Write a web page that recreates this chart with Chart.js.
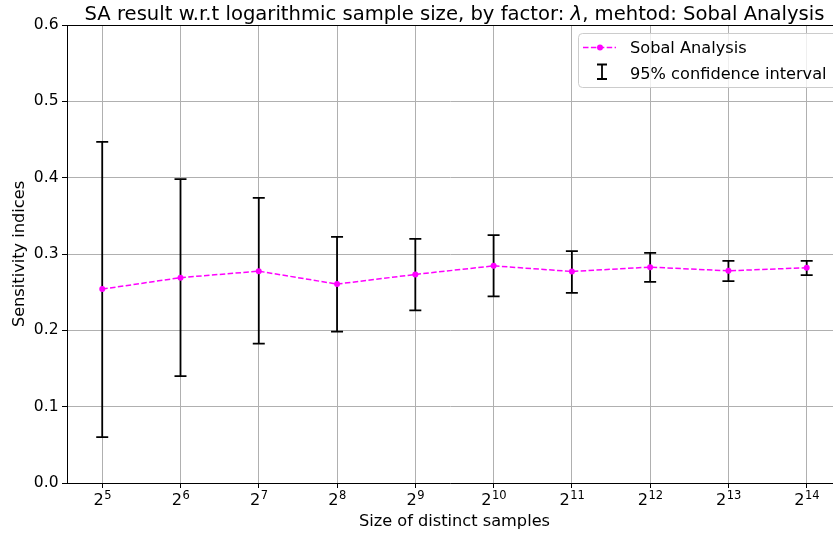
<!DOCTYPE html>
<html><head><meta charset="utf-8">
<script src="https://cdn.jsdelivr.net/npm/chart.js@4/dist/chart.umd.min.js"></script>
<style>html,body{margin:0;padding:0;background:#fff;overflow:hidden}#wrap{width:833px;height:535px;position:relative}</style>
</head><body><div id="wrap"><canvas id="c"></canvas></div>
<script>
const exponents = [5, 6, 7, 8, 9, 10, 11, 12, 13, 14];
const means = [0.254, 0.269, 0.2775, 0.2606, 0.2732, 0.2845, 0.2771, 0.2828, 0.278, 0.282];
const lowerCI = [0.060, 0.140, 0.1826, 0.1983, 0.2261, 0.2444, 0.2492, 0.2636, 0.2645, 0.2723];
const upperCI = [0.447, 0.398, 0.3735, 0.3225, 0.3198, 0.3246, 0.3037, 0.3015, 0.2911, 0.2911];
const yTickValues = [0, 0.1, 0.2, 0.3, 0.4, 0.5, 0.6];
const titleParts = ['SA result w.r.t logarithmic sample size, by factor: ', 'λ', ', mehtod: Sobal Analysis'];
const xLabel = 'Size of distinct samples';
const yLabel = 'Sensitivity indices';
const seriesName = 'Sobal Analysis';
const ciName = '95% confidence interval';

const FONT = "'DejaVu Sans', sans-serif";
const MAG = '#ff00ff';

const overlay = {
  id: 'overlay',
  beforeDatasetsDraw(chart) {
    const ctx = chart.ctx, xs = chart.scales.x, ys = chart.scales.y;
    ctx.save();
    ctx.strokeStyle = '#000';
    ctx.lineWidth = 1.8;
    for (let i = 0; i < exponents.length; i++) {
      const x = xs.getPixelForValue(exponents[i]);
      const yt = ys.getPixelForValue(upperCI[i]);
      const yb = ys.getPixelForValue(lowerCI[i]);
      ctx.beginPath();
      ctx.moveTo(x, yt); ctx.lineTo(x, yb);
      ctx.moveTo(x - 6, yt); ctx.lineTo(x + 6, yt);
      ctx.moveTo(x - 6, yb); ctx.lineTo(x + 6, yb);
      ctx.stroke();
    }
    ctx.restore();
  },
  afterDraw(chart) {
    const ctx = chart.ctx, xs = chart.scales.x, ys = chart.scales.y, ca = chart.chartArea;
    ctx.save();
    ctx.strokeStyle = '#000'; ctx.lineWidth = 1;
    ctx.beginPath(); ctx.moveTo(ca.left, Math.round(ca.top) + 0.5); ctx.lineTo(ca.right, Math.round(ca.top) + 0.5); ctx.stroke();
    ctx.fillStyle = '#000';
    const axLeft = xs.getPixelForValue(4.55), axRight = xs.getPixelForValue(14.45);
    const cx = (axLeft + axRight) / 2;
    ctx.textBaseline = 'alphabetic';
    ctx.textAlign = 'left';
    const fN = '19.6px ' + FONT, fI = 'italic 19.6px ' + FONT;
    ctx.font = fN; const w0 = ctx.measureText(titleParts[0]).width, w2 = ctx.measureText(titleParts[2]).width;
    ctx.font = fI; const w1 = ctx.measureText(titleParts[1]).width;
    let tx = cx - (w0 + w1 + w2) / 2;
    ctx.font = fN; ctx.fillText(titleParts[0], tx, 19.5); tx += w0;
    ctx.font = fI; ctx.fillText(titleParts[1], tx, 19.5); tx += w1;
    ctx.font = fN; ctx.fillText(titleParts[2], tx, 19.5);
    for (const e of exponents) {
      const x = xs.getPixelForValue(e);
      ctx.font = '16.2px ' + FONT; const wb = ctx.measureText('2').width;
      ctx.font = '11.5px ' + FONT; const we = ctx.measureText(String(e)).width;
      const lx = x - (wb + we) / 2;
      ctx.font = '16.2px ' + FONT; ctx.fillText('2', lx, 504.5);
      ctx.font = '11.5px ' + FONT; ctx.fillText(String(e), lx + wb + 0.5, 498.5);
    }
    ctx.font = '16.2px ' + FONT; ctx.textAlign = 'center';
    ctx.fillText(xLabel, cx, 526);
    ctx.save();
    ctx.translate(20, (ca.top + ca.bottom) / 2);
    ctx.rotate(-Math.PI / 2);
    ctx.textBaseline = 'middle';
    ctx.fillText(yLabel, 0, 0);
    ctx.restore();
    const bx = 578.5, by = 33.5, bw = 280, bh = 54, r = 4;
    ctx.beginPath();
    ctx.moveTo(bx + r, by); ctx.lineTo(bx + bw - r, by); ctx.arcTo(bx + bw, by, bx + bw, by + r, r);
    ctx.lineTo(bx + bw, by + bh - r); ctx.arcTo(bx + bw, by + bh, bx + bw - r, by + bh, r);
    ctx.lineTo(bx + r, by + bh); ctx.arcTo(bx, by + bh, bx, by + bh - r, r);
    ctx.lineTo(bx, by + r); ctx.arcTo(bx, by, bx + r, by, r); ctx.closePath();
    ctx.fillStyle = 'rgba(255,255,255,0.8)'; ctx.fill();
    ctx.strokeStyle = '#cccccc'; ctx.lineWidth = 1; ctx.stroke();
    ctx.strokeStyle = MAG; ctx.lineWidth = 1.5; ctx.setLineDash([5.5, 2.4]);
    ctx.beginPath(); ctx.moveTo(583, 47.5); ctx.lineTo(616, 47.5); ctx.stroke();
    ctx.setLineDash([]);
    ctx.fillStyle = MAG; ctx.beginPath(); ctx.arc(600, 47.5, 3, 0, Math.PI * 2); ctx.fill();
    ctx.strokeStyle = '#000'; ctx.lineWidth = 1.8;
    ctx.beginPath();
    ctx.moveTo(602, 64.5); ctx.lineTo(602, 79);
    ctx.moveTo(597, 64.5); ctx.lineTo(607, 64.5);
    ctx.moveTo(597, 79); ctx.lineTo(607, 79);
    ctx.stroke();
    ctx.fillStyle = '#000'; ctx.textAlign = 'left'; ctx.textBaseline = 'alphabetic';
    ctx.font = '16.2px ' + FONT;
    ctx.fillText(seriesName, 630, 52.5);
    ctx.fillText(ciName, 630, 78.5);
    ctx.restore();
  }
};

new Chart(document.getElementById('c'), {
  type: 'scatter',
  data: {
    datasets: [{
      label: seriesName,
      data: exponents.map((e, i) => ({ x: e, y: means[i] })),
      showLine: true,
      borderColor: MAG,
      backgroundColor: MAG,
      borderWidth: 1.5,
      borderDash: [5.5, 2.4],
      pointRadius: 3,
      pointBorderWidth: 0,
      pointBackgroundColor: MAG,
      tension: 0
    }]
  },
  options: {
    responsive: true,
    maintainAspectRatio: false,
    animation: false,
    devicePixelRatio: 1,
    layout: { autoPadding: false, padding: { top: 25, right: 0, bottom: 0, left: 0 } },
    plugins: { legend: { display: false }, title: { display: false }, tooltip: { enabled: false } },
    scales: {
      x: {
        type: 'linear',
        min: 4.55,
        max: 14.336,
        afterBuildTicks: s => { s.ticks = exponents.map(v => ({ value: v })); },
        afterFit: s => { s.height = 52; },
        ticks: { callback: () => '', autoSkip: false, padding: 0 },
        grid: { color: '#b0b0b0', lineWidth: 1, tickColor: '#000', tickLength: 5, drawTicks: true },
        border: { display: true, color: '#000', width: 1 }
      },
      y: {
        type: 'linear',
        min: 0,
        max: 0.6,
        afterBuildTicks: s => { s.ticks = yTickValues.map(v => ({ value: v })); },
        afterFit: s => { s.width = 67; },
        ticks: {
          callback: v => Number(v).toFixed(1),
          color: '#000',
          padding: 3.5,
          font: { family: FONT, size: 15.5 }
        },
        grid: { color: '#b0b0b0', lineWidth: 1, tickColor: '#000', tickLength: 5 },
        border: { display: true, color: '#000', width: 1 }
      }
    }
  },
  plugins: [overlay]
});
</script>
</body></html>
